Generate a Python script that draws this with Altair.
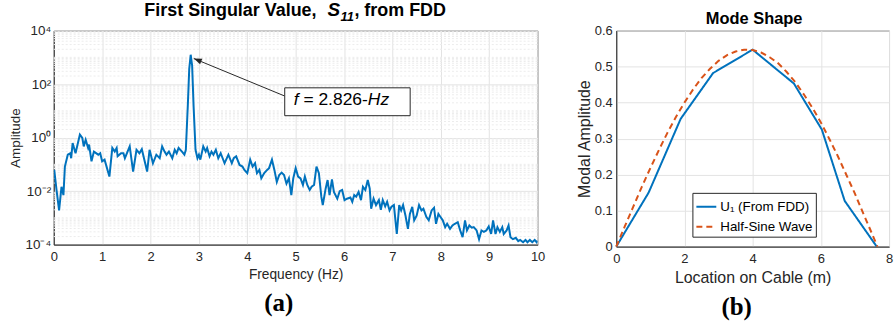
import altair as alt
import pandas as pd

# ---------------- data ----------------
freq_hz = [
    0.01, 0.06, 0.11, 0.16, 0.20, 0.23, 0.29, 0.34, 0.36, 0.39,
    0.45, 0.54, 0.59, 0.62, 0.66, 0.71, 0.73, 0.78, 0.83, 0.92,
    0.96, 1.00, 1.05, 1.15, 1.21, 1.26, 1.30, 1.32, 1.39, 1.44,
    1.47, 1.57, 1.64, 1.71, 1.77, 1.82, 1.93,
    1.98, 2.05, 2.12, 2.19, 2.24, 2.29, 2.33, 2.38, 2.45, 2.50,
    2.54, 2.58, 2.65, 2.70, 2.73, 2.77, 2.80, 2.83, 2.86, 2.89,
    2.93, 2.97, 3.00, 3.03, 3.09, 3.14, 3.17, 3.22, 3.26, 3.30,
    3.35, 3.40, 3.45, 3.53, 3.61, 3.68, 3.72, 3.77, 3.84,
    3.90, 3.94, 4.00, 4.06, 4.11, 4.16, 4.20, 4.25, 4.29, 4.35,
    4.41, 4.45, 4.51, 4.56, 4.61, 4.66, 4.71, 4.76, 4.81, 4.86,
    4.91, 4.95, 5.00, 5.05, 5.10, 5.15, 5.19, 5.24, 5.29, 5.33,
    5.38, 5.43, 5.48, 5.53, 5.56, 5.62, 5.66, 5.70, 5.75, 5.79,
    5.86, 5.91,
    5.96, 6.01, 6.06, 6.13, 6.17, 6.21, 6.25, 6.30, 6.35, 6.39,
    6.44, 6.49, 6.53, 6.56, 6.61, 6.66, 6.72, 6.76, 6.80, 6.85,
    6.89, 6.94, 6.98, 7.03, 7.09, 7.14, 7.18, 7.22, 7.27, 7.32,
    7.36, 7.41, 7.45, 7.50, 7.55, 7.60, 7.64, 7.70, 7.75,
    7.81, 7.86, 7.90, 7.95, 7.99, 8.04, 8.09, 8.13, 8.19, 8.24,
    8.29, 8.35, 8.40, 8.45, 8.50, 8.54, 8.59, 8.64, 8.68, 8.74,
    8.79, 8.84, 8.89, 8.94, 8.99, 9.04, 9.08, 9.13, 9.17, 9.22,
    9.27, 9.30, 9.36, 9.40, 9.44, 9.49, 9.55, 9.60, 9.64, 9.70,
    9.75, 9.79, 9.84, 9.89, 9.94, 9.98, 10.0,
]
amplitude = [
    0.062, 0.010, 0.0019, 0.0145, 0.0071, 0.083, 0.23, 0.26, 0.17, 0.63,
    0.26, 1.29, 0.98, 0.47, 0.83, 0.41, 0.55, 0.13, 0.30, 0.23,
    0.26, 0.13, 0.15, 0.035, 0.41, 0.30, 0.41, 0.20, 0.26, 0.26,
    0.17, 0.47, 0.054, 0.35, 0.26, 0.37, 0.054,
    0.35, 0.11, 0.23, 0.17, 0.47, 0.30, 0.23, 0.30, 0.17, 0.35,
    0.26, 0.41, 0.30, 0.23, 0.35, 15.0, 370.0, 1250.0, 490.0, 15.0,
    0.35, 0.17, 0.23, 0.15, 0.47, 0.30, 0.41, 0.20, 0.30, 0.23,
    0.35, 0.17, 0.26, 0.11, 0.23, 0.11, 0.17, 0.20, 0.095,
    0.083, 0.062, 0.047, 0.15, 0.083, 0.11, 0.047, 0.062, 0.030, 0.047,
    0.062, 0.072, 0.15, 0.062, 0.022, 0.040, 0.049, 0.040, 0.019, 0.030,
    0.0071, 0.030, 0.072, 0.035, 0.030, 0.017, 0.035, 0.017, 0.011, 0.0145,
    0.017, 0.083, 0.047, 0.0062, 0.0030, 0.0126, 0.026, 0.0071, 0.0275, 0.0093,
    0.0052, 0.010,
    0.011, 0.0046, 0.0052, 0.0058, 0.0040, 0.0071, 0.0062, 0.0093, 0.0046, 0.0145,
    0.011, 0.026, 0.0126, 0.0022, 0.0052, 0.0030, 0.0046, 0.0020, 0.0046, 0.0027,
    0.0040, 0.0019, 0.0026, 0.0030, 0.00025, 0.0030, 0.0019, 0.0030, 0.0012, 0.00039,
    0.0014, 0.0026, 0.00081, 0.0012, 0.0030, 0.0019, 0.0022, 0.0011, 0.00081,
    0.0019, 0.0024, 0.00060, 0.0014, 0.0011, 0.00081, 0.00045, 0.00060, 0.00039, 0.00052,
    0.00060, 0.00069, 0.00034, 0.00019, 0.00081, 0.00034, 0.00052, 0.00043, 0.00045, 0.00034,
    0.00016, 0.00034, 0.00030, 0.00034, 0.00048, 0.00025, 0.00081, 0.00025, 0.00045, 0.00030,
    0.00045, 0.00025, 0.00034, 0.00052, 0.00019, 0.00016, 0.00018, 0.000135, 0.00015, 0.000123,
    0.00015, 0.000123, 0.00015, 0.000123, 0.00015, 0.000123, 0.00014,
]

cable_loc_fdd = [0.0, 0.95, 1.89, 2.84, 4.00, 5.21, 6.03, 6.70, 7.64]
u1_fdd = [0.0, 0.150, 0.355, 0.482, 0.547, 0.453, 0.325, 0.127, 0.0]

cable_loc_sine = [0.0, 0.25, 0.5, 0.75, 1.0, 1.25, 1.5, 1.75, 2.0, 2.25, 2.5,
                  2.75, 3.0, 3.25, 3.5, 3.75, 4.0, 4.25, 4.5, 4.75, 5.0, 5.25,
                  5.5, 5.75, 6.0, 6.25, 6.5, 6.75, 7.0, 7.25, 7.5, 7.66]
half_sine = [0.0, 0.056, 0.111, 0.166, 0.218, 0.268, 0.316, 0.360, 0.400, 0.436,
             0.468, 0.494, 0.516, 0.532, 0.542, 0.547, 0.546, 0.539, 0.526, 0.509,
             0.485, 0.457, 0.423, 0.386, 0.345, 0.299, 0.251, 0.199, 0.147, 0.091,
             0.036, 0.0]

series_names = ["U\u2081 (From FDD)", "Half-Sine Wave"]
x_ticks_a = [0, 1, 2, 3, 4, 5, 6, 7, 8, 9, 10]
y_ticks_a = [1e-4, 1e-2, 1.0, 1e2, 1e4]
x_ticks_b = [0, 2, 4, 6, 8]
y_ticks_b = [0, 0.1, 0.2, 0.3, 0.4, 0.5, 0.6]
arrow_tip = {"f1": 2.895, "a1": 900.0, "f2": 4.77, "a2": 36.0}

# ---------------- styling ----------------
FONT = "Liberation Sans"
SERIF = "Liberation Serif"
AX = "#262626"
BLUE = "#0072BD"
ORANGE = "#D95319"
GRID = "#e3e3e3"
MINOR = "#ececec"

WA, HA = 486, 215
WB, HB = 274, 217


def txt(s, x, y, size, weight="normal", style="normal", font=FONT,
        align="left", baseline="alphabetic", color="black", opacity=1.0):
    return alt.Chart(alt.Data(values=[{"k": 1}])).mark_text(
        text=s, x=x, y=y, fontSize=size, fontWeight=weight, fontStyle=style,
        font=font, align=align, baseline=baseline, color=color, opacity=opacity,
    )


# ---------------- (a) spectrum ----------------
xa = alt.Scale(domain=[0, 10], nice=False, zero=False)
ya = alt.Scale(type="log", domain=[1e-4, 1e4], nice=False)

axis_xa = alt.Axis(values=x_ticks_a, format="d", title="Frequency (Hz)",
                   grid=True, gridColor=GRID, ticks=False, tickSize=0,
                   labelFontSize=13, labelPadding=6, labelFlush=False,
                   labelOverlap=False, titleFontSize=13.8, titlePadding=4,
                   titleFontWeight="normal", labelFont=FONT, titleFont=FONT,
                   labelColor=AX, titleColor=AX, domainColor=AX)
axis_ya = alt.Axis(values=y_ticks_a, title="Amplitude",
                   labelExpr="datum.value > 1000 ? '10\u2074' : datum.value > 10 ? '10\u00b2' : "
                             "datum.value > 0.1 ? '10\u2070' : datum.value > 0.001 ? '10\u207b\u00b2' : '10\u207b\u2074'",
                   grid=True, gridColor=GRID, ticks=False, tickSize=0,
                   labelFontSize=13.5, labelPadding=3, labelOverlap=False,
                   minExtent=27, maxExtent=27, titlePadding=4, titleFontSize=13.5,
                   titleFontWeight="normal", labelFont=FONT, titleFont=FONT,
                   labelColor=AX, titleColor=AX, domainColor=AX)

spec_df = pd.DataFrame({"f": freq_hz, "a": amplitude})
minor_vals = [k * 10.0 ** e for e in range(-4, 4) for k in range(1, 10)
              if not (k == 1 and e % 2 == 0)]
minor_df = pd.DataFrame({"a": minor_vals})
arrow_df = pd.DataFrame([arrow_tip])

minor_grid = alt.Chart(minor_df).mark_rule(
    color=MINOR, strokeDash=[2, 2], strokeWidth=1
).encode(y=alt.Y("a:Q", scale=ya, axis=axis_ya))

line_a = alt.Chart(spec_df).mark_line(color=BLUE, strokeWidth=2, clip=True).encode(
    x=alt.X("f:Q", scale=xa, axis=axis_xa),
    y=alt.Y("a:Q", scale=ya, axis=axis_ya),
)

arrow_line = alt.Chart(arrow_df).mark_rule(color=AX, strokeWidth=1).encode(
    x=alt.X("f1:Q", scale=xa, axis=axis_xa),
    y=alt.Y("a1:Q", scale=ya, axis=axis_ya),
    x2="f2:Q", y2="a2:Q",
)
arrow_head = alt.Chart(arrow_df).mark_point(
    shape="M0,0L2,-0.75L2,0.75Z", filled=True, color=AX, opacity=1, size=64, angle=22.2
).encode(
    x=alt.X("f1:Q", scale=xa, axis=axis_xa),
    y=alt.Y("a1:Q", scale=ya, axis=axis_ya),
)

box = alt.Chart(alt.Data(values=[{"k": 1}])).mark_rect(
    fill="white", stroke=AX, strokeWidth=1
).encode(x=alt.value(232), x2=alt.value(358), y=alt.value(57.5), y2=alt.value(85.5))

ann_f = txt("f", 241, 74.5, 17.5, style="italic")
ann_mid = txt("= 2.826-", 250.8, 74.5, 17.5)
ann_hz = txt("Hz", 315.5, 74.5, 17.5, style="italic")

t1 = txt("First Singular Value,", 91, -14.5, 18, weight="bold")
tS = txt("S", 275, -14.5, 19, weight="bold", style="italic")
t11 = txt("11", 288, -10, 13, weight="bold", style="italic")
t3 = txt(", from FDD", 302, -14.5, 18, weight="bold")
lab_a = txt("(a)", 226, 281.5, 25, weight="bold", font=SERIF, align="center")

left = alt.layer(
    minor_grid, line_a, arrow_line, arrow_head, box, ann_f, ann_mid, ann_hz,
    t1, tS, t11, t3, lab_a,
).properties(width=WA, height=HA)

# ---------------- (b) mode shape ----------------
xb = alt.Scale(domain=[0, 8], nice=False, zero=False)
yb = alt.Scale(domain=[0, 0.6], nice=False, zero=False)

mode_df = pd.concat([
    pd.DataFrame({"x": cable_loc_fdd, "y": u1_fdd, "s": series_names[0]}),
    pd.DataFrame({"x": cable_loc_sine, "y": half_sine, "s": series_names[1]}),
], ignore_index=True)

# legends of a concatenated chart are placed from the first panel's origin
leg = alt.Legend(title=None, orient="none", legendX=641.5, legendY=163,
                 fillColor="white", strokeColor=AX, padding=3,
                 symbolType="stroke", symbolSize=400, symbolStrokeWidth=2,
                 labelFontSize=13.4, labelFont=FONT, labelColor="black",
                 labelOffset=3, rowPadding=2, cornerRadius=0)

axis_xb = alt.Axis(values=x_ticks_b, format="d", title="Location on Cable (m)",
                   grid=True, gridColor=GRID, ticks=False, tickSize=0,
                   labelFontSize=13, labelPadding=6, labelFlush=False,
                   labelOverlap=False, titleFontSize=16, titlePadding=4,
                   titleFontWeight="normal", labelFont=FONT, titleFont=FONT,
                   labelColor=AX, titleColor=AX, domainColor=AX)
axis_yb = alt.Axis(values=y_ticks_b, format="~g", title="Modal Amplitude",
                   grid=True, gridColor=GRID, ticks=False, tickSize=0,
                   labelFontSize=13, labelPadding=4, labelOverlap=False,
                   minExtent=22, maxExtent=22, titlePadding=2, titleFontSize=16,
                   titleFontWeight="normal", labelFont=FONT, titleFont=FONT,
                   labelColor=AX, titleColor=AX, domainColor=AX)

lines_b = alt.Chart(mode_df).mark_line(strokeWidth=2).encode(
    x=alt.X("x:Q", scale=xb, axis=axis_xb),
    y=alt.Y("y:Q", scale=yb, axis=axis_yb),
    color=alt.Color("s:N", scale=alt.Scale(domain=series_names, range=[BLUE, ORANGE]), legend=leg),
    strokeDash=alt.StrokeDash("s:N", scale=alt.Scale(domain=series_names, range=[[1, 0], [6, 4]]), legend=leg),
)

title_b = txt("Mode Shape", 138.5, -6.4, 16.5, weight="bold", align="center")
spacer_b = txt(".", 10, -25.9, 10, baseline="top", opacity=0.0)
lab_b = txt("(b)", 121, 285.3, 25, weight="bold", font=SERIF, align="center")

right = alt.layer(lines_b, title_b, spacer_b, lab_b).properties(width=WB, height=HB)

chart = alt.hconcat(left, right, spacing=30).properties(
    padding={"left": 8, "top": 0, "right": 0, "bottom": 0}
).configure_view(stroke="#595959", strokeWidth=1)

chart.save("out.html", embed_options={"renderer": "svg", "actions": False})
